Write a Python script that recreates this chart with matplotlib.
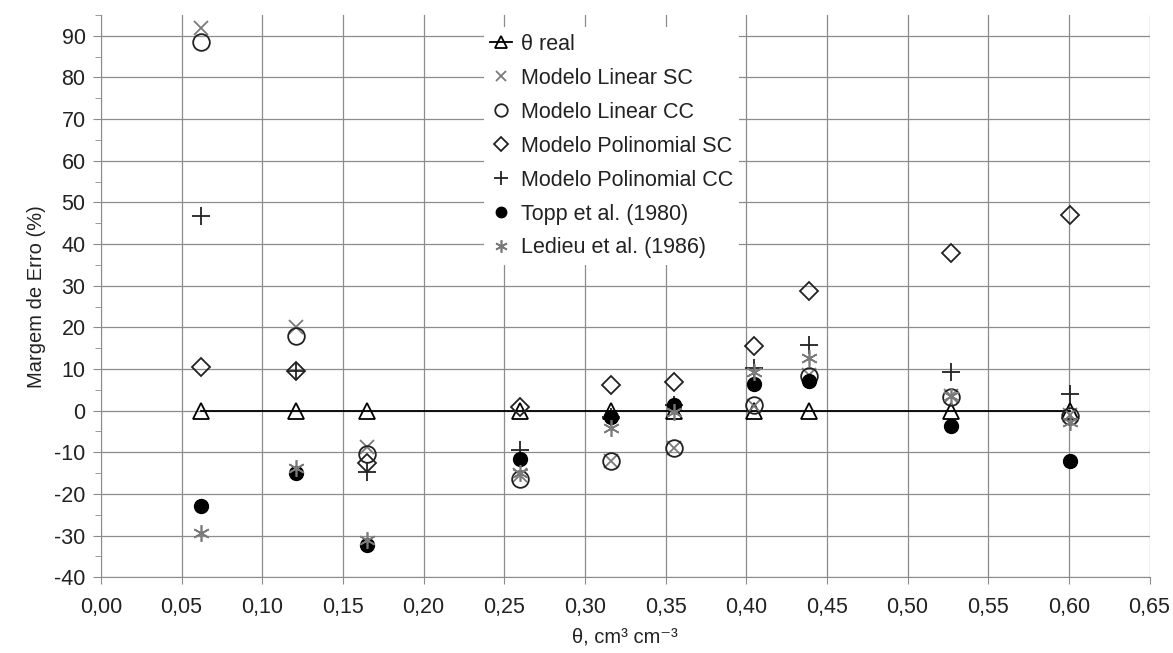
import numpy as np
import matplotlib.pyplot as plt
import matplotlib.ticker as ticker

plt.rcParams['font.family'] = ['Liberation Sans', 'DejaVu Sans']
plt.rcParams['axes.unicode_minus'] = False

# theta (cm3 cm-3) of each sample
theta = [0.062, 0.121, 0.165, 0.260, 0.316, 0.355, 0.405, 0.439, 0.527, 0.601]

# error margins (%)
theta_real = [0, 0, 0, 0, 0, 0, 0, 0, 0, 0]
linear_sc = [92.0, 20.0, -8.8, -15.5, -12.0, -9.0, 1.0, 8.5, 3.5, -1.0]
linear_cc = [88.5, 18.0, -10.5, -16.5, -12.0, -9.0, 1.3, 8.3, 3.3, -1.4]
poli_sc = [10.5, 9.6, -12.5, 0.8, 6.2, 6.8, 15.6, 28.8, 37.8, 47.1]
poli_cc = [46.8, 9.6, -14.8, -9.5, -1.5, 1.3, 10.2, 15.7, 9.4, 3.9]
topp = [-23.0, -15.0, -32.2, -11.5, -1.5, 1.3, 6.3, 7.1, -3.8, -12.1]
ledieu = [-29.3, -13.8, -31.0, -15.0, -4.2, -0.3, 9.4, 12.6, 3.6, -2.8]

fig = plt.figure(figsize=(11.73, 6.53), dpi=100)
ax = fig.add_axes([0.086, 0.116, 0.894, 0.861])

grey = '#7a7a7a'
ax.plot(theta, theta_real, color='black', lw=1.3, marker='^', ms=11,
        mfc='none', mec='black', mew=1.3, label='θ real')
ax.plot(theta, linear_sc, ls='none', marker='x', ms=10, mec=grey, mew=1.3,
        label='Modelo Linear SC')
ax.plot(theta, linear_cc, ls='none', marker='o', ms=12, mfc='none', mec='#222222',
        mew=1.3, label='Modelo Linear CC')
ax.plot(theta, poli_sc, ls='none', marker='D', ms=9, mfc='none', mec='#222222',
        mew=1.3, label='Modelo Polinomial SC')
ax.plot(theta, poli_cc, ls='none', marker='+', ms=13, mec='#222222', mew=1.3,
        label='Modelo Polinomial CC')
ax.plot(theta, topp, ls='none', marker='o', ms=10, mfc='black', mec='black',
        label='Topp et al. (1980)')
ax.plot(theta, ledieu, ls='none', marker=(6, 2, 0), ms=12, mec=grey, mew=1.2,
        label='Ledieu et al. (1986)')

ax.set_xlim(0, 0.65)
ax.set_ylim(-40, 95)
ax.set_xticks(np.arange(0, 0.651, 0.05))
ax.set_yticks(np.arange(-40, 91, 10))
ax.yaxis.set_minor_locator(ticker.MultipleLocator(5))
ax.xaxis.set_major_formatter(ticker.FuncFormatter(lambda v, p: f'{v:.2f}'.replace('.', ',')))

ax.grid(True, which='major', color='#8c8c8c', lw=0.9)
ax.set_axisbelow(True)
for s in ['top', 'right']:
    ax.spines[s].set_visible(False)
for s in ['left', 'bottom']:
    ax.spines[s].set_color('#8c8c8c')
ax.tick_params(axis='both', which='both', colors='#8c8c8c', labelcolor='#222222',
               labelsize=15.5)
ax.tick_params(axis='y', which='major', length=6, pad=5)
ax.tick_params(axis='y', which='minor', length=4)
ax.tick_params(axis='x', length=5, pad=9)

ax.set_xlabel('θ, cm³ cm⁻³', fontsize=14.5, color='#222222', labelpad=7)
ax.set_ylabel('Margem de Erro (%)', fontsize=14.5, color='#222222', labelpad=6)

leg = ax.legend(loc='upper left', bbox_to_anchor=(0.355, 0.997), fontsize=15.5,
                frameon=True, fancybox=False, edgecolor='none', framealpha=1,
                labelspacing=0.6, handlelength=1.0, handletextpad=0.4,
                borderpad=0.3, markerscale=0.75)
for t in leg.get_texts():
    t.set_color('#222222')

plt.savefig('out.png', dpi=100)
